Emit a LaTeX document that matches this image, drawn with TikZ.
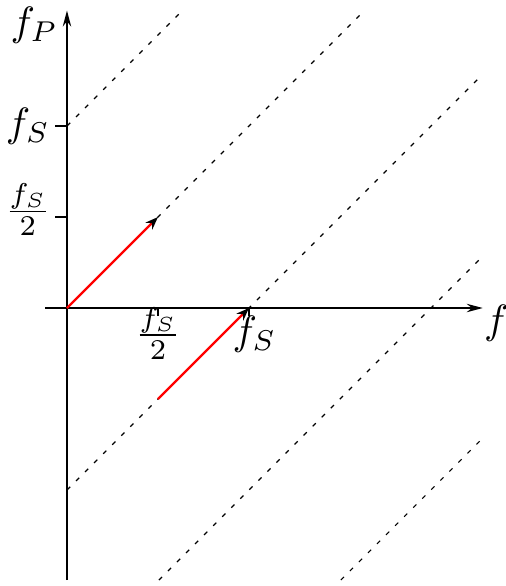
\documentclass[tikz,border=0pt]{standalone}
\usetikzlibrary{arrows.meta}
\begin{document}
\begin{tikzpicture}[x=1cm,y=1cm,
  dl/.style={line width=0.35pt, dash pattern=on 1.4pt off 2.6pt},
  axis/.style={line width=0.75pt},
  tick/.style={line width=0.4pt},
  redarrow/.style={red, line width=0.7pt, -{Stealth[black,length=4pt,width=3pt]}},
  lbl/.style={inner sep=0pt, scale=1.28}]
\useasboundingbox (-0.736,-3.055) rectangle (4.824,3.385);
% dashed alias lines
\draw[dl] (0,2) -- (1.25,3.25);
\draw[dl] (0,0) -- (3.25,3.25);
\draw[dl] (0,-2) -- (4.54,2.54);
\draw[dl] (1.01,-2.99) -- (4.54,0.54);
\draw[dl] (3.01,-2.99) -- (4.54,-1.46);
% axes
\draw[axis,-{Stealth[length=5pt,width=2.6pt]}] (-0.24,0) -- (4.57,0);
\draw[axis,-{Stealth[length=5pt,width=2.6pt]}] (0,-2.99) -- (0,3.27);
% ticks
\draw[tick] (1,0) -- (1,-0.09);
\draw[tick] (2,0) -- (2,-0.09);
\draw[tick] (-0.13,1) -- (0,1);
\draw[tick] (-0.13,2) -- (0,2);
% red arrows
\draw[redarrow] (0,0) -- (1,1);
\draw[redarrow] (1,-1) -- (2,0);
% labels
\node[lbl] (fp) at (-0.36,3.11) {$f_P$};
\node[lbl] (fsy) at (-0.43,2.0) {$f_S$};
\node[lbl] (fs2y) at (-0.43,1.08) {$\frac{f_S}{2}$};
\node[lbl] (fs2x) at (1.0,-0.28) {$\frac{f_S}{2}$};
\node[lbl] (fsx) at (2.06,-0.29) {$f_S$};
\node[lbl] (fx) at (4.72,-0.17) {$f$};
\end{tikzpicture}
\end{document}
